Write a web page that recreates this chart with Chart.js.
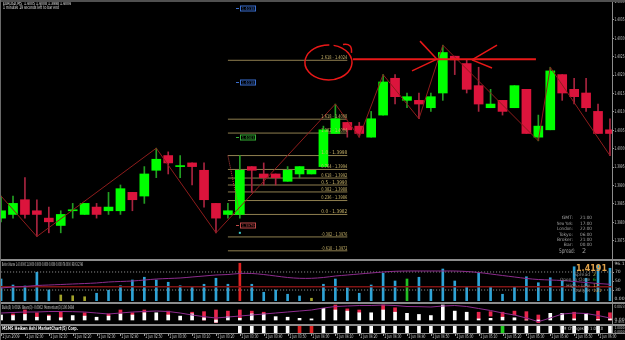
<!DOCTYPE html>
<html><head><meta charset="utf-8">
<script src="https://cdn.jsdelivr.net/npm/chart.js@4.4.1/dist/chart.umd.min.js"></script>
<style>
html,body{margin:0;padding:0;background:#000;width:625px;height:340px;overflow:hidden;position:relative;}
canvas{position:absolute;left:0;display:block;}
.sep{position:absolute;left:0;width:625px;background:#8c8c8c;}
</style></head><body>
<canvas id="main" width="625" height="258" style="top:0px"></canvas>
<canvas id="vol" width="625" height="41" style="top:261px"></canvas>
<canvas id="bulls" width="625" height="19" style="top:304px"></canvas>
<canvas id="strip" width="625" height="14" style="top:326px"></canvas>
<div class="sep" style="top:0;height:2px;background:#505050"></div>
<div class="sep" style="top:259px;height:2px"></div>
<div class="sep" style="top:302px;height:2px"></div>
<div class="sep" style="top:324px;height:2px"></div>
<div style="position:absolute;left:0;top:0;width:1px;height:340px;background:#6a6a6a"></div>
<div style="position:absolute;left:612px;top:2px;width:1px;height:332px;background:#8c8c8c"></div>
<script>
// ---------- data ----------
const opens  = [1.3981,1.3982,1.3986,1.3983,1.3981,1.3979,1.3983,1.3982,1.3984,1.3983, 1.3983,1.3988,1.3987,1.3994,1.3998,1.3995,1.3996,1.3994,1.3985,1.3982, 1.3982,1.3995,1.3993,1.3993,1.3991,1.3993,1.3993,1.3995,1.4004,1.4007, 1.4006,1.4003,1.4009,1.4019,1.4013,1.4013,1.4011,1.4015,1.4025,1.4023, 1.4017,1.4011,1.4013,1.4011,1.4016,1.4003,1.4005,1.4020,1.4016,1.4015, 1.4010,1.4005];
const highs  = [1.3987,1.3987,1.3992,1.3986,1.3984,1.3983,1.3985,1.3985,1.3985,1.3988, 1.3990,1.3988,1.3995,1.4000,1.3999,1.3998,1.3996,1.3996,1.3985,1.3985, 1.3998,1.3995,1.3996,1.3993,1.3995,1.3995,1.3994,1.4006,1.4012,1.4007, 1.4007,1.4010,1.4020,1.4020,1.4015,1.4015,1.4015,1.4028,1.4025,1.4024, 1.4022,1.4016,1.4013,1.4017,1.4016,1.4009,1.4022,1.4020,1.4019,1.4019, 1.4012,1.4008];
const lows   = [1.3980,1.3981,1.3981,1.3976,1.3977,1.3977,1.3981,1.3982,1.3981,1.3982, 1.3982,1.3983,1.3985,1.3992,1.3993,1.3992,1.3990,1.3984,1.3977,1.3981, 1.3981,1.3988,1.3990,1.3990,1.3991,1.3992,1.3993,1.3995,1.4004,1.4003, 1.4003,1.4003,1.4009,1.4012,1.4011,1.4008,1.4010,1.4013,1.4020,1.4015, 1.4010,1.4011,1.4009,1.4011,1.4004,1.4002,1.4005,1.4013,1.4012,1.4010, 1.4004,1.3998];
const closes = [1.3983,1.3985,1.3982,1.3982,1.3980,1.3982,1.3983,1.3985,1.3982,1.3984, 1.3989,1.3986,1.3993,1.3997,1.3996,1.3995,1.3995,1.3986,1.3981,1.3983, 1.3994,1.3994,1.3992,1.3992,1.3994,1.3995,1.3994,1.4005,1.4008,1.4005, 1.4004,1.4008,1.4018,1.4014,1.4014,1.4012,1.4014,1.4026,1.4024,1.4016, 1.4012,1.4012,1.4010,1.4017,1.4004,1.4006,1.4021,1.4015,1.4014,1.4011, 1.4004,1.4004];

const zigzagIdx   = [0, 3, 13, 18, 28, 30, 32, 35, 37, 45, 46, 51];
const zigzagPrice = [1.3987,1.3976,1.4000,1.3977,1.4012,1.4003,1.4020,1.4008,1.4028,1.4002,1.4022,1.3998];

const fibLevels = ['2.618','1.618','1.382','1.0','0.764','0.618','0.5','0.382','0.236','0.0','-0.382','-0.618'];
const fibLow = 1.3982, fibHigh = 1.3998;
const fibFrom = 19, fibTo = 29;

const priceTicks = [1.4040,1.4035,1.4030,1.4025,1.4020,1.4015,1.4010,1.4005,1.4000,1.3995,1.3990,1.3985,1.3980,1.3975];

const timeLabels = ['2 Jun 2009','2 Jun 02:00','2 Jun 02:10','2 Jun 02:20','2 Jun 02:30','2 Jun 02:40','2 Jun 02:50','2 Jun 03:00','2 Jun 03:10','2 Jun 03:20','2 Jun 03:30','2 Jun 03:40','2 Jun 03:50','2 Jun 04:00','2 Jun 04:10','2 Jun 04:20','2 Jun 04:30','2 Jun 04:40','2 Jun 04:50','2 Jun 05:00','2 Jun 05:10','2 Jun 05:20','2 Jun 05:30','2 Jun 05:40','2 Jun 05:50','2 Jun 06:00'];

const volumes = [176,128,120,230,88,48,42,34,62,86, 122,168,190,168,150,122,114,134,182,134, 302,134,70,88,54,40,22,134,176,106, 62,128,222,160,176,190,94,256,160,112, 222,114,54,114,194,146,186,160,274,182, 288,262];
const volumeClass = ['n','n','n','n','n','low','low','low','n','n', 'n','n','n','n','n','n','n','n','n','n', 'climax','n','n','n','n','n','low','n','n','n', 'n','n','n','n','churn','n','n','n','n','n', 'n','n','n','n','n','n','n','n','n','n', 'n','n'];
const volumeAvg = 114;
const rsi = [34.4,36.7,37.8,40.0,41.1,42.2,43.3,44.4,45.6,47.8, 48.9,50.0,52.2,54.4,55.6,56.7,58.9,61.1,63.3,64.4, 66.7,66.7,64.4,61.1,57.8,56.0,56.0,57.8,61.1,63.3, 65.6,67.8,70.0,71.6,72.2,72.2,72.2,72.2,72.2,71.1, 68.9,65.6,62.2,58.9,55.6,53.3,52.2,51.1,48.9,46.7, 44.4,42.7];
const rsiLevels = [70, 30];

const bulls = [0.0009,0.0008,0.0010,0.0005,0.0007,0.0004,0.0008,0.0007,0.0005,0.0007, 0.0011,0.0009,0.0013,0.0013,0.0009,0.0007,0.0011,0.0004,-0.0004,0.0006, 0.0003,0.0011,0.0011,0.0006,0.0005,0.0003,0.0002,0.0021,0.0018,0.0016, 0.0013,0.0013,0.0018,0.0014,0.0012,0.0010,0.0008,0.0027,0.0016,0.0014, 0.0002,0.0003,0.0005,0.0004,0.0000,-0.0002,0.0012,0.0012,0.0002,0.0012, 0.0001,0.0002];
const bears = [null,[0.0008,0.0011],[0.0010,0.0018],[0.0005,0.0013],[0.0007,0.0009],[0.0004,0.0015],null,[0.0007,0.0013],null,[0.0007,0.0011],
 [0.0011,0.0018],[0.0009,0.0013],[0.0013,0.0018],null,[0.0009,0.0016],null,[0.0011,0.0014],[0.0000,0.0015],[-0.0009,0.0018],[0.0006,0.0016],
 [0.0003,0.0018],[0.0011,0.0016],[0.0011,0.0014],null,null,null,null,null,[0.0018,0.0027],[0.0016,0.0020],
 [0.0013,0.0018],null,[0.0018,0.0027],[0.0014,0.0022],null,null,null,null,null,null,
 [0.0002,0.0014],[0.0007,0.0015],[0.0005,0.0014],[0.0009,0.0016],[0.0000,0.0015],[-0.0006,0.0009],null,null,[0.0002,0.0014],null,
 [0.0000,0.0016],[0.0000,0.0013]];
const momentum = [100.036,100.042,100.048,100.048,100.054,100.054,100.052,100.048,100.036,100.024, 100.036,100.048,100.054,100.060,100.054,100.036,100.012,99.992,99.976,99.988, 100.000,100.012,100.024,100.036,100.048,100.060,100.072,100.096,100.114,100.120, 100.126,100.126,100.132,100.126,100.114,100.112,100.108,100.120,100.126,100.114, 100.090,100.066,100.036,100.012,99.976,99.932,99.976,100.024,100.036,100.030, 100.006,99.976];

const stripClass = [null,null,null,null,null,null,null,null,null,null, null,null,null,null,null,null,null,null,null,null, 'w','w','w','w','w','r','r','w','w','w', 'w','w','w','w','w','w','w','w','w','w', 'w','w','g','w','w','w','w','w','w','w', 'w','w'];

// annotations (in data units: candle index, price)
const redLevel = [29.48, 44.8, 1.40242];
const starLines = [[35.09,1.40291,36.51,1.40242],[34.42,1.40210,36.51,1.40242],[41.54,1.40280,39.44,1.40240],[41.12,1.40218,39.44,1.40240]];
const circleNote = [27.42, 1.40233, 1.97, 0.000476];
const markPrices = [1.4038, 1.4018, 1.4003, 1.3979];
const markKinds = ['blue','blue','green','red'];
const markIdx = 20.7;

// ---------- helpers ----------
const idx = opens.map((_, i) => i);
const xScale = () => ({type:'linear', display:false, min:-0.089, max:51.17, offset:false});
function T(ctx, s, x, y, o) {
  ctx.save();
  ctx.font = (o.bold ? 'bold ' : '') + (o.size || 5) + 'px "DejaVu Sans", sans-serif';
  ctx.fillStyle = o.color || '#d0d0d0';
  ctx.textAlign = o.align || 'left';
  ctx.textBaseline = 'middle';
  if (o.maxWidth) ctx.fillText(s, x, y, o.maxWidth); else ctx.fillText(s, x, y);
  ctx.restore();
}
const baseOpts = (pad) => ({responsive:false, animation:false, events:[], layout:{padding:pad},
  plugins:{legend:{display:false}, tooltip:{enabled:false}}});
const up = i => closes[i] >= opens[i];
const seg = (a, b, c, d, color, w, dash, order) => ({type:'line', data:[{x:a,y:b},{x:c,y:d}], borderColor:color, borderWidth:w, borderDash:dash||[], pointRadius:0, order:order});

// ---------- main chart ----------
const fibPrices = fibLevels.map(l => fibLow + parseFloat(l) * (fibHigh - fibLow));
const mainDatasets = [
  {type:'bar', data: idx.map(i => ({x:i, y:[lows[i], highs[i]]})), backgroundColor: idx.map(i => up(i) ? '#23a023' : '#a8243f'), barThickness:1, grouped:false, order:4},
  {type:'bar', data: idx.map(i => ({x:i, y:[opens[i], closes[i]]})), backgroundColor: idx.map(i => up(i) ? '#00ff00' : '#dc143c'), barThickness:9, minBarLength:1, grouped:false, order:3},
  {type:'line', data: zigzagIdx.map((x, k) => ({x:x, y:zigzagPrice[k]})), borderColor:'#8e1c1c', borderWidth:1, pointRadius:0, order:2},
  seg(fibFrom, fibHigh, fibFrom + 1, fibLow, '#c04040', 1, [1,1], 2),
  seg(redLevel[0], redLevel[2], redLevel[1], redLevel[2], '#e81818', 2, null, 1)
];
fibPrices.forEach(p => mainDatasets.push(seg(fibFrom, p, fibTo, p, '#8f7f4f', 1, null, 5)));
starLines.forEach(s => mainDatasets.push(seg(s[0], s[1], s[2], s[3], '#e81818', 1.5, null, 1)));

const mainPlugin = {id:'mainText', afterDraw(chart) {
  const ctx = chart.ctx, xs = chart.scales.x, ys = chart.scales.y;
  // right price axis
  priceTicks.forEach(p => {
    const py = ys.getPixelForValue(p);
    ctx.fillStyle = '#9a9a9a'; ctx.fillRect(612, Math.round(py), 2, 1);
    T(ctx, p.toFixed(4), 614.5, py + 0.5, {size:5, maxWidth:10, color:'#c4c4c4'});
  });
  // fib labels
  const fx = xs.getPixelForValue(fibTo);
  fibPrices.forEach((p, k) => {
    T(ctx, fibLevels[k] + ' - ' + p.toFixed(4), fx, ys.getPixelForValue(p) - 2.5, {size:5, align:'right', maxWidth:26, color:'#c9b46a'});
  });
  // price marks
  const mx = xs.getPixelForValue(markIdx);
  const mcol = {blue:'#3a6fd0', green:'#35b035', red:'#c04848'};
  markPrices.forEach((p, k) => {
    const py = Math.round(ys.getPixelForValue(p)) + 0.5, c = mcol[markKinds[k]];
    ctx.strokeStyle = c; ctx.lineWidth = 1; ctx.strokeRect(Math.round(mx) - 7.5, py - 2.5, 15, 5);
    ctx.fillStyle = c; ctx.fillRect(Math.round(mx) - 12, py - 0.5, 3, 1);
    T(ctx, p.toFixed(4), mx, py, {size:4, align:'center', maxWidth:13, color:c});
  });
  ctx.fillStyle = '#40c8c8';
  ctx.fillRect(xs.getPixelForValue(20) - 1, ys.getPixelForValue(1.3977) - 1, 2, 2);
  // hand-drawn circle
  const cx = xs.getPixelForValue(circleNote[0]), cy = ys.getPixelForValue(circleNote[1]);
  const rx = xs.getPixelForValue(circleNote[0] + circleNote[2]) - cx;
  const ry = ys.getPixelForValue(circleNote[1] - circleNote[3]) - cy;
  ctx.save(); ctx.strokeStyle = '#e81818'; ctx.lineWidth = 1.5;
  ctx.beginPath(); ctx.ellipse(cx, cy, rx, ry, 0, -1.35, 4.75); ctx.stroke();
  ctx.beginPath(); ctx.moveTo(cx + rx * 0.62, cy - ry * 1.02); ctx.quadraticCurveTo(cx + rx * 1.02, cy - ry * 1.12, cx + rx * 0.98, cy - ry * 0.55); ctx.stroke();
  ctx.restore();
  // header
  T(ctx, 'EURUSD,M5  1.4005 1.4008 1.3998 1.4004', 3, 4, {size:5, maxWidth:68, color:'#e8e8e8'});
  T(ctx, '1 minutes 19 seconds left to bar end', 3, 8, {size:5, maxWidth:56, color:'#e8e8e8'});
  // session info
  const info = [['GMT:','21:00'],['New York:','17:00'],['London:','22:00'],['Tokyo:','06:00'],['Broker:','21:00'],['Bar:','00:00']];
  info.forEach((r, k) => {
    const y = 218 + k * 5.45;
    T(ctx, r[0], 573, y, {size:4.5, align:'right', maxWidth:16, color:'#a0a0a0'});
    T(ctx, r[1], 580, y, {size:4.5, maxWidth:12, color:'#a0a0a0'});
  });
  T(ctx, 'Spread:', 575, 251, {size:6.5, align:'right', maxWidth:16, color:'#a0a0a0'});
  T(ctx, '2', 582, 251, {size:6.5, color:'#a0a0a0'});
}};

new Chart(document.getElementById('main'), {
  type:'bar', data:{datasets:mainDatasets},
  options:Object.assign(baseOpts({left:0, right:13, top:3, bottom:0}), {
    scales:{x:xScale(), y:{type:'linear', display:false, min:1.3970163, max:1.4039457}}}),
  plugins:[mainPlugin]
});

// ---------- volume / RSI ----------
const volColors = {n:'#2ea3d6', low:'#a3a32a', climax:'#e02222', churn:'#22c022'};
const volPlugin = {id:'volText', afterDraw(chart) {
  const ctx = chart.ctx, y2 = chart.scales.y2;
  T(ctx, 'Better Volume 1.4 0.0000 11.0000 0.0000 0.0000 0.0000 0.0000 76.0000  RSI 63.2746', 2, 3.5, {size:5, maxWidth:81, color:'#d8d8d8'});
  T(ctx, '96.1', 614.5, 2.5, {size:4.5, maxWidth:10, color:'#c4c4c4'});
  [70, 50, 30].forEach(v => { const py = y2.getPixelForValue(v); ctx.fillStyle='#9a9a9a'; ctx.fillRect(612, Math.round(py), 2, 1); T(ctx, String(v), 615, py, {size:4.5, color:'#c4c4c4'}); });
  T(ctx, '0.00', 614.5, 38, {size:4.5, maxWidth:10, color:'#c4c4c4'});
  T(ctx, '1.4191', 607, 7.5, {size:9, bold:true, align:'right', maxWidth:31, color:'#e0a24a'});
  const rows = [['Spread','2','#cfcf40'],['Open to Close','6','#22c022'],['High - Low','17','#e0a24a'],['Daily R','131','#e0a24a']];
  rows.forEach((r, k) => {
    const y = 13.5 + k * 5.6;
    T(ctx, r[0], 590, y, {size:4.5, align:'right', maxWidth:30, color:'#909090'});
    T(ctx, r[1], 593, y, {size:4.5, maxWidth:10, color:r[2]});
  });
}};
new Chart(document.getElementById('vol'), {
  type:'bar',
  data:{datasets:[
    {type:'bar', data: idx.map(i => ({x:i, y:volumes[i]})), backgroundColor: volumeClass.map(c => volColors[c]), barThickness:2, grouped:false, yAxisID:'y', order:3},
    {type:'line', data:[{x:-1,y:volumeAvg},{x:52,y:volumeAvg}], borderColor:'#801414', borderWidth:1.5, pointRadius:0, yAxisID:'y', order:2},
    ...rsiLevels.map(v => ({type:'line', data:[{x:-1,y:v},{x:52,y:v}], borderColor:'#9a9a9a', borderWidth:1, borderDash:[1,2], pointRadius:0, yAxisID:'y2', order:2})),
    {type:'line', data: idx.map(i => ({x:i, y:rsi[i]})), borderColor:'#8e2c8e', borderWidth:1, pointRadius:0, tension:0.3, yAxisID:'y2', order:1}
  ]},
  options:Object.assign(baseOpts({left:0, right:13, top:0, bottom:1}), {
    scales:{x:xScale(), y:{type:'linear', display:false, min:0, max:320}, y2:{type:'linear', display:false, min:5.56, max:94.44}}}),
  plugins:[volPlugin]
});

// ---------- bulls / bears / momentum ----------
const bullsPlugin = {id:'bullsText', afterDraw(chart) {
  const ctx = chart.ctx, y = chart.scales.y;
  T(ctx, 'Bulls(3) 0.0016  Bears(3) -0.0002  Momentum(3) 100.0484', 2, 3.5, {size:5, maxWidth:72, color:'#d8d8d8'});
  [[0.0023,'0.0023'],[0,'0.00'],[-0.0005,'-0.0005']].forEach(t => T(ctx, t[1], 614.5, y.getPixelForValue(t[0]), {size:4.5, maxWidth:10, color:'#c4c4c4'}));
}};
new Chart(document.getElementById('bulls'), {
  type:'bar',
  data:{datasets:[
    {type:'bar', data: idx.map(i => ({x:i, y:bears[i]})), backgroundColor:'#e8264d', barThickness:3, grouped:false, yAxisID:'y', order:3},
    {type:'bar', data: idx.map(i => ({x:i, y:bulls[i]})), backgroundColor:'#ffffff', barThickness:3, grouped:false, yAxisID:'y', order:2},
    {type:'line', data: idx.map(i => ({x:i, y:momentum[i]})), borderColor:'#8e2c8e', borderWidth:1, pointRadius:0, yAxisID:'y2', order:1}
  ]},
  options:Object.assign(baseOpts({left:0, right:13, top:0, bottom:0}), {
    scales:{x:xScale(), y:{type:'linear', display:false, min:-0.00054, max:0.00288}, y2:{type:'linear', display:false, min:99.916, max:100.144}}}),
  plugins:[bullsPlugin]
});

// ---------- bottom strip + time axis ----------
const stripColors = {w:'#ffffff', r:'#e02222', g:'#22d022'};
const stripPlugin = {id:'stripText', afterDraw(chart) {
  const ctx = chart.ctx, xs = chart.scales.x;
  T(ctx, 'MSMS Heiken Ashi MarketChart(5) Corp.', 2, 2.8, {size:5, bold:true, maxWidth:76, color:'#f0f0f0'});
  T(ctx, 'TLM Changes(5) 1.0 1.0', 603, 2.8, {size:4.5, align:'right', maxWidth:44, color:'#d0d0d0'});
  T(ctx, '1.0000', 614.5, 2, {size:4, maxWidth:10, color:'#c4c4c4'});
  T(ctx, '0.0000', 614.5, 5.5, {size:4, maxWidth:10, color:'#c4c4c4'});
  ctx.fillStyle = '#8c8c8c'; ctx.fillRect(0, 7, 625, 1);
  timeLabels.forEach((t, k) => {
    const x = Math.round(xs.getPixelForValue(k * 2));
    ctx.fillStyle = '#9a9a9a'; ctx.fillRect(x, 8, 1, 2);
    T(ctx, t, x + 1.5, 11.2, {size:5, maxWidth:17, color:'#c8c8c8'});
  });
}};
new Chart(document.getElementById('strip'), {
  type:'bar',
  data:{datasets:[
    {type:'bar', data: idx.map(i => ({x:i, y: stripClass[i] ? [0, 1] : null})), backgroundColor: stripClass.map(c => c ? stripColors[c] : '#000'), barThickness:3, grouped:false}
  ]},
  options:Object.assign(baseOpts({left:0, right:13, top:0, bottom:7}), {
    scales:{x:xScale(), y:{type:'linear', display:false, min:0, max:1}}}),
  plugins:[stripPlugin]
});
</script>
</body></html>
